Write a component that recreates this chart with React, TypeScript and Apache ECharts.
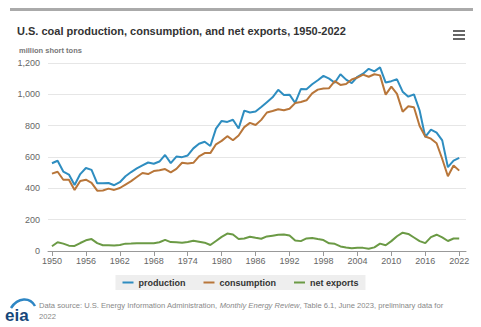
import React, { useEffect, useRef } from "react";
import * as echarts from "echarts";

const years = [
  1950, 1951, 1952, 1953, 1954, 1955, 1956, 1957, 1958, 1959,
  1960, 1961, 1962, 1963, 1964, 1965, 1966, 1967, 1968, 1969,
  1970, 1971, 1972, 1973, 1974, 1975, 1976, 1977, 1978, 1979,
  1980, 1981, 1982, 1983, 1984, 1985, 1986, 1987, 1988, 1989,
  1990, 1991, 1992, 1993, 1994, 1995, 1996, 1997, 1998, 1999,
  2000, 2001, 2002, 2003, 2004, 2005, 2006, 2007, 2008, 2009,
  2010, 2011, 2012, 2013, 2014, 2015, 2016, 2017, 2018, 2019,
  2020, 2021, 2022,
];

const production = [
  560, 576, 507, 488, 421, 491, 530, 518, 432, 433,
  434, 420, 439, 477, 504, 527, 547, 565, 557, 571,
  613, 561, 603, 599, 610, 655, 685, 697, 670, 781,
  830, 824, 838, 782, 896, 884, 890, 919, 950, 981,
  1029, 996, 998, 945, 1034, 1033, 1064, 1090, 1118, 1100,
  1074, 1128, 1094, 1072, 1112, 1132, 1163, 1147, 1172, 1075,
  1084, 1096, 1017, 985, 1000, 897, 728, 775, 756, 706,
  535, 577, 594,
];

const consumption = [
  494, 506, 455, 455, 390, 447, 455, 435, 385, 386,
  398, 390, 402, 424, 446, 472, 498, 491, 510, 516,
  523, 502, 524, 563, 558, 563, 604, 625, 625, 681,
  703, 733, 707, 737, 791, 818, 804, 837, 884, 894,
  905, 899, 908, 944, 951, 962, 1006, 1030, 1037, 1039,
  1084, 1060, 1066, 1095, 1107, 1126, 1112, 1128, 1121, 998,
  1049, 1003, 889, 924, 918, 798, 731, 717, 688, 587,
  477, 546, 513,
];

const netExports = [
  30, 56, 47, 34, 32, 51, 68, 76, 50, 37,
  36, 35, 38, 47, 48, 50, 49, 49, 50, 56,
  71, 57, 56, 52, 58, 65, 59, 53, 38, 64,
  90, 111, 105, 77, 80, 91, 84, 78, 93, 98,
  103, 106, 99, 67, 63, 80, 83, 76, 70, 49,
  46, 29, 23, 18, 21, 20, 14, 23, 47, 37,
  63, 94, 117, 109, 86, 63, 50, 89, 104, 87,
  64, 80, 79,
];

const xTickYears = [1950, 1956, 1962, 1968, 1974, 1980, 1986, 1992, 1998, 2004, 2010, 2016, 2022];

const seriesNames = ["production", "consumption", "net exports"];
const seriesColors = ["#2e8dc0", "#b8763a", "#6b9a45"];

const FONT = '"Liberation Sans", Arial, sans-serif';

export default function App() {
  const ref = useRef<HTMLDivElement>(null);

  useEffect(() => {
    document.body.style.margin = "0";
    if (!ref.current) return;
    const chart = echarts.init(ref.current, null, { renderer: "svg" });
    const values = [production, consumption, netExports];

    chart.setOption({
      animation: false,
      backgroundColor: "#ffffff",
      textStyle: { fontFamily: FONT },
      grid: { left: 48, right: 15, top: 63, bottom: 76 },
      xAxis: {
        type: "value",
        min: 1949.3,
        max: 2023.2,
        splitLine: { show: false },
        axisLine: { show: true, lineStyle: { color: "#999999", width: 1 } },
        axisTick: {
          show: true,
          customValues: xTickYears,
          length: 5,
          lineStyle: { color: "#999999" },
        },
        axisLabel: {
          customValues: xTickYears,
          formatter: (v: number) => String(v),
          color: "#666666",
          fontSize: 9,
          fontFamily: FONT,
          margin: 5,
        },
      },
      yAxis: {
        type: "value",
        min: 0,
        max: 1200,
        interval: 200,
        axisLine: { show: false },
        axisTick: { show: false },
        splitLine: { lineStyle: { color: "#e6e6e6", width: 1 } },
        axisLabel: {
          color: "#666666",
          fontSize: 9,
          fontFamily: FONT,
          margin: 8,
          formatter: (v: number) => v.toLocaleString("en-US"),
        },
      },
      legend: {
        data: seriesNames,
        left: "center",
        top: 275,
        backgroundColor: "#eeeeee",
        padding: [3, 7, 3, 7],
        itemGap: 18,
        itemWidth: 11,
        itemHeight: 2,
        icon: "rect",
        textStyle: { color: "#333333", fontSize: 9, fontWeight: "bold", fontFamily: FONT },
      },
      series: seriesNames.map((name, i) => ({
        name,
        type: "line",
        data: years.map((y, j) => [y, values[i][j]]),
        showSymbol: false,
        symbol: "none",
        lineStyle: { color: seriesColors[i], width: 2 },
        itemStyle: { color: seriesColors[i] },
      })),
      graphic: [
        { type: "rect", shape: { x: 10, y: 8, width: 463, height: 3 }, style: { fill: "#aaaaaa" } },
        {
          type: "text",
          x: 17,
          y: 31,
          style: {
            text: "U.S. coal production, consumption, and net exports, 1950-2022",
            font: `bold 11px ${FONT}`,
            fill: "#333333",
            verticalAlign: "middle",
          },
        },
        {
          type: "text",
          x: 19,
          y: 50,
          style: {
            text: "million short tons",
            font: `bold 7.5px ${FONT}`,
            fill: "#777777",
            verticalAlign: "middle",
          },
        },
        { type: "rect", shape: { x: 453, y: 30, width: 12, height: 2 }, style: { fill: "#666666" } },
        { type: "rect", shape: { x: 453, y: 34, width: 12, height: 2 }, style: { fill: "#666666" } },
        { type: "rect", shape: { x: 453, y: 38, width: 12, height: 2 }, style: { fill: "#666666" } },
        {
          type: "bezierCurve",
          shape: { x1: 11, y1: 308, cpx1: 18, cpy1: 297, x2: 35, y2: 306, cpx2: 30, cpy2: 297 },
          style: { stroke: "#2e86c4", lineWidth: 2.5, fill: "none" },
        },
        {
          type: "text",
          x: 5,
          y: 315,
          style: {
            text: "eia",
            font: `bold 17px ${FONT}`,
            fill: "#16477a",
            verticalAlign: "middle",
          },
        },
        {
          type: "text",
          x: 39,
          y: 300,
          style: {
            text:
              "{n|Data source: U.S. Energy Information Administration, }{i|Monthly Energy Review}{n|, Table 6.1, June 2023, preliminary data for}\n{n|2022}",
            fill: "#888888",
            rich: {
              n: { fontSize: 7.6, fontFamily: FONT, color: "#888888", lineHeight: 11 },
              i: { fontSize: 7.6, fontFamily: FONT, color: "#888888", fontStyle: "italic", lineHeight: 11 },
            },
          },
        },
      ],
    });

    return () => chart.dispose();
  }, []);

  return <div ref={ref} style={{ width: 481, height: 327 }} />;
}
